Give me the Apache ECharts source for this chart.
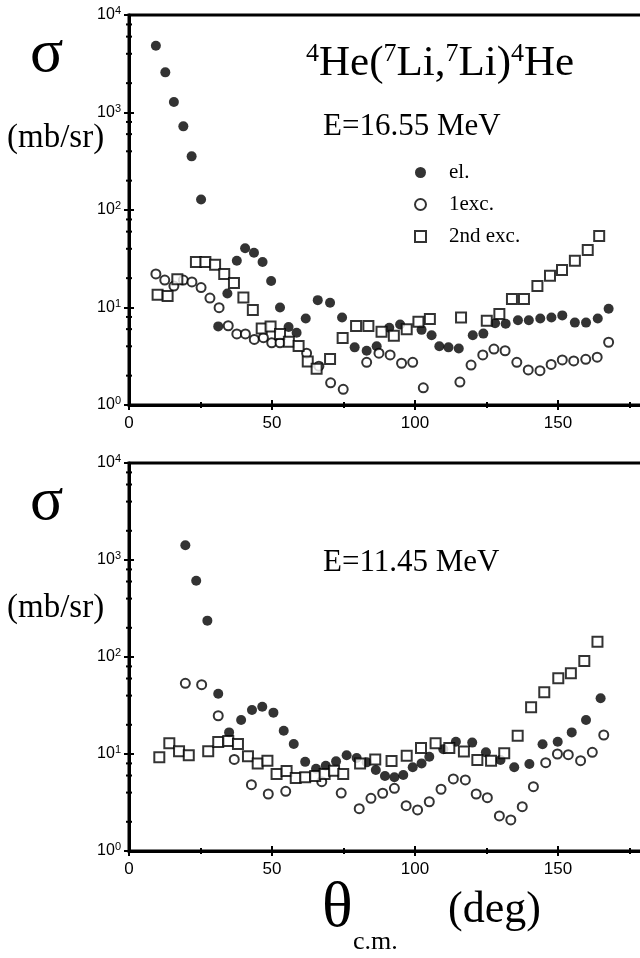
<!DOCTYPE html>
<html><head><meta charset="utf-8">
<script src="https://cdn.jsdelivr.net/npm/echarts@6/dist/echarts.min.js"></script>
<style>html,body{margin:0;padding:0;background:#fff}#c{width:640px;height:958px}</style>
</head><body><div id="c"></div>
<script>
// ---- Top panel: E = 16.55 MeV ----
const topElAngle = [9.4,12.7,15.7,19.0,21.9,25.2,31.2,34.4,37.7,40.6,43.7,46.7,49.7,52.8,55.8,58.6,61.8,66.0,70.3,74.5,78.9,83.1,86.6,91.0,94.8,102.3,105.8,108.5,111.7,115.3,120.2,123.9,128.0,131.7,136.0,139.8,143.8,147.7,151.5,155.9,159.8,163.9,167.7];
const topElValue = [4840,2580,1280,721,355,128,6.4,13.9,30.2,40.5,36.5,29.3,18.7,10.0,6.3,5.5,7.7,11.9,11.2,7.9,3.9,3.6,4.0,6.2,6.7,5.9,5.2,4.0,3.9,3.8,5.2,5.4,6.9,6.8,7.4,7.4,7.7,7.9,8.3,7.0,7.0,7.7,9.7];
const topEx1Angle = [9.4,12.5,15.7,19.0,22.0,25.2,28.3,31.5,34.7,37.7,40.7,43.8,47.0,49.9,52.8,62.1,66.4,70.5,74.9,83.1,87.4,91.3,95.3,99.2,102.9,115.7,119.6,123.7,127.6,131.5,135.6,139.6,143.7,147.6,151.5,155.5,159.7,163.7,167.7];
const topEx1Value = [22.1,19.1,16.6,19.1,18.3,16.0,12.5,9.95,6.5,5.35,5.35,4.7,4.9,4.35,4.35,3.4,2.5,1.69,1.45,2.74,3.4,3.26,2.68,2.74,1.5,1.72,2.57,3.26,3.75,3.6,2.74,2.29,2.25,2.61,2.9,2.83,2.94,3.09,4.4];
const topEx2Angle = [10.0,13.5,16.9,23.4,26.7,30.1,33.3,36.7,40.0,43.3,46.4,49.5,52.8,55.9,59.3,62.5,65.6,70.3,74.7,79.4,83.7,88.3,92.6,97.1,101.2,105.2,116.1,125.1,129.5,133.9,138.1,142.8,147.2,151.4,155.9,160.4,164.4];
const topEx2Value = [13.5,13.1,19.5,29.3,29.3,27.5,22.1,17.8,12.7,9.4,6.1,6.4,5.35,4.46,4.03,2.8,2.36,2.96,4.87,6.46,6.46,5.65,5.14,6.0,7.15,7.6,7.9,7.3,8.6,12.2,12.2,16.6,21.2,24.3,30.2,38.9,54.1];

// ---- Bottom panel: E = 11.45 MeV ----
const botElAngle = [19.7,23.5,27.4,31.2,35.0,39.2,43.0,46.6,50.5,54.1,57.6,61.6,65.4,68.8,72.4,76.1,79.6,83.1,86.3,89.5,92.8,95.9,99.2,102.3,105.0,109.9,114.3,120.0,124.8,129.9,134.7,140.0,144.6,149.9,154.8,159.8,164.9];
const botElValue = [1418,612,237,41.8,16.7,22.4,28.4,30.7,26.7,17.4,12.7,8.3,7.06,7.58,8.4,9.7,9.1,8.2,6.84,5.93,5.75,6.08,7.3,8.0,9.38,11.2,13.4,13.1,10.4,8.67,7.3,7.9,12.6,13.4,16.7,22.4,37.5];
const botEx1Angle = [19.7,25.4,31.2,36.8,42.8,48.7,54.8,67.4,74.2,80.5,84.6,88.7,92.8,96.9,100.9,105.0,109.1,113.4,117.6,121.4,125.3,129.5,133.5,137.5,141.4,145.7,149.8,153.6,157.9,162.0,166.0];
const botEx1Value = [53.6,51.8,24.8,8.8,4.83,3.87,4.12,5.18,3.96,2.73,3.49,3.94,4.43,2.93,2.65,3.22,4.33,5.53,5.4,3.87,3.55,2.3,2.09,2.86,4.6,8.13,10,9.84,8.53,10.4,15.7];
const botEx2Angle = [10.6,14.1,17.5,20.9,27.7,31.2,34.7,38.1,41.6,45.0,48.4,51.6,55.1,58.3,61.6,65.1,68.4,71.7,74.9,80.8,86.1,91.8,97.1,102.1,107.2,112.0,117.1,121.8,126.6,131.2,135.9,140.6,145.2,150.1,154.5,159.2,163.8];
const botEx2Value = [9.25,12.9,10.7,9.7,10.7,13.3,13.6,12.7,9.5,8.0,8.53,6.22,6.68,5.66,5.75,5.93,6.22,6.73,6.22,8.0,8.8,8.47,9.6,11.5,12.9,11.5,10.6,8.67,8.53,10.2,15.4,30.3,43.3,60.3,67.9,91,144];

// axis ticks
const xTickLabels = ['0','50','100','150'];
const yMinorTicks = [2,4,6,8,20,40,60,80,200,400,600,800,2000,4000,6000,8000];
const seriesNames = ['el.','1exc.','2nd exc.'];

const SERIF = '"Liberation Serif","DejaVu Serif",serif';
const SANS = '"Liberation Sans","DejaVu Sans",sans-serif';

const chart = echarts.init(document.getElementById('c'), null, {renderer:'canvas'});
const pairs = (a, v) => a.map((x, i) => [x, v[i]]);

const grids = [
  {left:129, top:15, width:572, height:390, show:true, borderColor:'#000', borderWidth:3, backgroundColor:'transparent', containLabel:false, outerBoundsMode:'none'},
  {left:129, top:463, width:572, height:388, show:true, borderColor:'#000', borderWidth:3, backgroundColor:'transparent', containLabel:false, outerBoundsMode:'none'}
];

function xAxesFor(gi){
  const base = {type:'value', gridIndex:gi, min:0, max:200, interval:50, position:'bottom', splitLine:{show:false}};
  return [
    Object.assign({}, base, {
      axisLine:{show:true, onZero:false, lineStyle:{color:'#000', width:3}},
      axisTick:{show:true, inside:false, length:5, lineStyle:{color:'#000', width:2}},
      minorTick:{show:true, splitNumber:2, length:3, lineStyle:{color:'#000', width:2}},
      axisLabel:{show:true, fontFamily:SANS, fontSize:17, color:'#000', margin:10,
        formatter: v => { const i = [0,50,100,150].indexOf(v); return i >= 0 ? xTickLabels[i] : ''; }}
    }),
    Object.assign({}, base, {
      axisLine:{show:false},
      axisTick:{show:true, inside:true, length:5, lineStyle:{color:'#000', width:2}},
      minorTick:{show:true, splitNumber:2, length:3, lineStyle:{color:'#000', width:2}},
      axisLabel:{show:false}
    })
  ];
}
function yAxesFor(gi){
  const base = {type:'log', logBase:10, gridIndex:gi, min:1, max:10000, position:'left', splitLine:{show:false}};
  return [
    Object.assign({}, base, {
      axisLine:{show:true, onZero:false, lineStyle:{color:'#000', width:3}},
      axisTick:{show:true, inside:false, length:5, lineStyle:{color:'#000', width:2}},
      axisLabel:{show:true, margin:8, color:'#000',
        formatter: v => '{b|10}{s|' + Math.round(Math.log10(v)) + '}',
        rich:{b:{fontFamily:SANS, fontSize:16, color:'#000'}, s:{fontFamily:SANS, fontSize:11, color:'#000', verticalAlign:'top', padding:[0,0,8,0]}}}
    }),
    Object.assign({}, base, {
      axisLine:{show:false},
      axisTick:{show:true, inside:true, length:5, lineStyle:{color:'#000', width:2}},
      axisLabel:{show:false}
    })
  ];
}

function minorTickSeries(gi){
  return {
    type:'custom', xAxisIndex:gi*2, yAxisIndex:gi*2, silent:true, clip:false, z:5,
    data: yMinorTicks.map(v => [0, v]),
    renderItem: (params, api) => {
      const p = api.coord([0, api.value(1)]);
      return {type:'line', shape:{x1:p[0]-3, y1:p[1], x2:p[0]+3, y2:p[1]}, style:{stroke:'#000', lineWidth:2}};
    }
  };
}

const elStyle = {symbol:'circle', symbolSize:10, itemStyle:{color:'#000'}};
const ex1Style = {symbol:'circle', symbolSize:9, itemStyle:{color:'#fff', borderColor:'#000', borderWidth:2}};
const ex2Style = {symbol:'rect', symbolSize:10, itemStyle:{color:'#fff', borderColor:'#000', borderWidth:2}};

function scatter(name, gi, style, data){
  return Object.assign({type:'scatter', name:name, xAxisIndex:gi*2, yAxisIndex:gi*2, data:data, z:3,
    emphasis:{disabled:true}, animation:false}, JSON.parse(JSON.stringify(style)));
}

const series = [
  scatter(seriesNames[0], 0, elStyle, pairs(topElAngle, topElValue)),
  scatter(seriesNames[1], 0, ex1Style, pairs(topEx1Angle, topEx1Value)),
  scatter(seriesNames[2], 0, ex2Style, pairs(topEx2Angle, topEx2Value)),
  scatter(seriesNames[0], 1, elStyle, pairs(botElAngle, botElValue)),
  scatter(seriesNames[1], 1, ex1Style, pairs(botEx1Angle, botEx1Value)),
  scatter(seriesNames[2], 1, ex2Style, pairs(botEx2Angle, botEx2Value)),
  minorTickSeries(0),
  minorTickSeries(1)
];

const txt = (x, y, text, font, extra) => ({type:'text', x:x, y:y, z:10,
  style:Object.assign({text:text, font:font, fill:'#000', textAlign:'left', textVerticalAlign:'middle'}, extra||{})});

const graphic = [
  txt(30, 55, 'σ', '62px ' + SERIF),
  txt(7, 138, '(mb/sr)', '33px ' + SERIF),
  txt(30, 503, 'σ', '62px ' + SERIF),
  txt(7, 608, '(mb/sr)', '33px ' + SERIF),
  {type:'text', x:306, y:64, z:10, style:{
    text:'{s|4}{n|He(}{s|7}{n|Li,}{s|7}{n|Li)}{s|4}{n|He}', textVerticalAlign:'middle',
    rich:{n:{fontFamily:SERIF, fontSize:43, fill:'#000', color:'#000', lineHeight:46},
          s:{fontFamily:SERIF, fontSize:26, fill:'#000', color:'#000', verticalAlign:'top', lineHeight:26}}}},
  txt(323, 127, 'E=16.55 MeV', '31px ' + SERIF),
  txt(323, 563, 'E=11.45 MeV', '31px ' + SERIF),
  txt(322, 909, 'θ', '64px ' + SERIF),
  txt(353, 942, 'c.m.', '26px ' + SERIF),
  txt(448, 910, '(deg)', '44px ' + SERIF)
];

chart.setOption({
  animation:false,
  backgroundColor:'#fff',
  grid:grids,
  xAxis:[].concat(xAxesFor(0), xAxesFor(1)),
  yAxis:[].concat(yAxesFor(0), yAxesFor(1)),
  legend:{orient:'vertical', left:409, top:157, itemWidth:11, itemHeight:11, itemGap:11, selectedMode:false,
    textStyle:{fontFamily:SERIF, fontSize:21, color:'#000', padding:[0,0,0,18]},
    data:[{name:'el.', icon:'circle'},{name:'1exc.', icon:'circle'},{name:'2nd exc.', icon:'rect'}]},
  series:series,
  graphic:graphic
});
</script>
</body></html>
